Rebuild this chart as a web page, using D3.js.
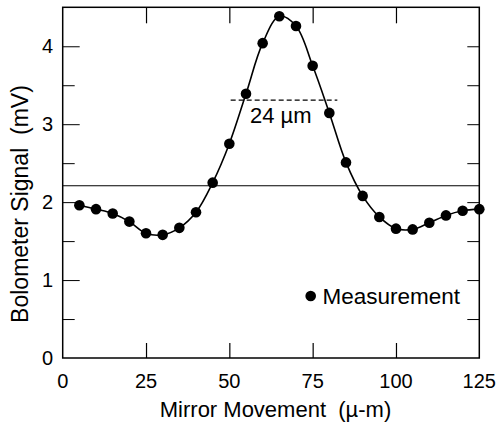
<!DOCTYPE html>
<html>
<head>
<meta charset="utf-8">
<script src="https://cdn.jsdelivr.net/npm/d3@7"></script>
<style>
  html, body { margin: 0; padding: 0; background: #fff; }
  svg text { font-family: "Liberation Sans", Arial, Helvetica, sans-serif; fill: #000; white-space: pre; }
</style>
</head>
<body>
<div id="chart"></div>
<script>
// ---- data ----
const mirrorPos = [5, 10, 15, 20, 25, 30, 35, 40, 45, 50, 55, 60, 65, 70, 75, 80, 85, 90, 95, 100, 105, 110, 115, 120, 125];
const signal = [1.96, 1.91, 1.855, 1.75, 1.60, 1.58, 1.67, 1.87, 2.25, 2.75, 3.39, 4.04, 4.385, 4.26, 3.75, 3.145, 2.51, 2.08, 1.81, 1.66, 1.65, 1.735, 1.83, 1.89, 1.91];
const xTickValues = [0, 25, 50, 75, 100, 125];
const yMajorTicks = [0, 1, 2, 3, 4];
const yMinorTicks = [0.5, 1.5, 2.5, 3.5];
const halfMaxLevel = 2.21;          // solid horizontal line
const fwhmLevel = 3.31;             // dashed width marker
const fwhmRange = [50.4, 82.4];
const fwhmLabel = "24 \u00b5m";
const legendLabel = "Measurement";
const xTitle = "Mirror Movement  (\u00b5-m)";
const yTitle = "Bolometer Signal  (mV)";

// ---- layout ----
const W = 499, H = 427;
const mg = { left: 62.7, right: W - 479.3, top: 7.3, bottom: H - 358 };

const svg = d3.select("#chart").append("svg").attr("width", W).attr("height", H);

const x = d3.scaleLinear().domain([0, 125]).range([mg.left, W - mg.right]);
const y = d3.scaleLinear().domain([0, 4.5]).range([H - mg.bottom, mg.top]);

const g = svg.append("g");

// frame
g.append("rect")
  .attr("x", x(0)).attr("y", y(4.5))
  .attr("width", x(125) - x(0)).attr("height", y(0) - y(4.5))
  .attr("fill", "none").attr("stroke", "#000").attr("stroke-width", 1.5);

// bottom axis (ticks inward)
const xInner = xTickValues.filter(d => d > 0 && d < 125);
const bottomAxis = g.append("g").attr("transform", `translate(0,${y(0)})`)
  .call(d3.axisBottom(x).tickValues(xInner).tickSize(-15).tickFormat(""));
bottomAxis.select(".domain").remove();
bottomAxis.selectAll("line").attr("stroke-width", 1.2);

// bottom tick labels
g.append("g").selectAll("text").data(xTickValues).join("text")
  .attr("x", d => x(d)).attr("y", 388)
  .attr("text-anchor", "middle").attr("font-size", 20)
  .text(d => d);

// top axis
const topAxis = g.append("g").attr("transform", `translate(0,${y(4.5)})`)
  .call(d3.axisTop(x).tickValues(xInner).tickSize(-16).tickFormat(""));
topAxis.select(".domain").remove();
topAxis.selectAll("line").attr("stroke-width", 1.2);

// left axis
const leftAxis = g.append("g").attr("transform", `translate(${x(0)},0)`)
  .call(d3.axisLeft(y).tickValues(yMajorTicks.filter(d => d > 0)).tickSize(-17).tickFormat(""));
leftAxis.select(".domain").remove();
leftAxis.selectAll("line").attr("stroke-width", 1);
const leftMinor = g.append("g").attr("transform", `translate(${x(0)},0)`)
  .call(d3.axisLeft(y).tickValues(yMinorTicks).tickSize(-12).tickFormat(""));
leftMinor.select(".domain").remove();
leftMinor.selectAll("line").attr("stroke-width", 1);

g.append("g").selectAll("text").data(yMajorTicks).join("text")
  .attr("x", 53).attr("y", d => y(d)).attr("dy", "0.36em")
  .attr("text-anchor", "end").attr("font-size", 20)
  .text(d => d);

// right axis
const rightAxis = g.append("g").attr("transform", `translate(${x(125)},0)`)
  .call(d3.axisRight(y).tickValues(yMajorTicks.concat(yMinorTicks).filter(d => d > 0)).tickSize(-12).tickFormat(""));
rightAxis.select(".domain").remove();
rightAxis.selectAll("line").attr("stroke-width", 1);

// horizontal solid line
g.append("line")
  .attr("x1", x(0)).attr("x2", x(125))
  .attr("y1", y(halfMaxLevel)).attr("y2", y(halfMaxLevel))
  .attr("stroke", "#000").attr("stroke-width", 1.2);

// dashed FWHM marker
g.append("line")
  .attr("x1", x(fwhmRange[0])).attr("x2", x(fwhmRange[1]))
  .attr("y1", y(fwhmLevel)).attr("y2", y(fwhmLevel))
  .attr("stroke", "#000").attr("stroke-width", 1.2).attr("stroke-dasharray", "5,3");

g.append("text")
  .attr("x", 250).attr("y", 123)
  .attr("font-size", 22)
  .text(fwhmLabel);

// curve
const pts = mirrorPos.map((d, i) => [d, signal[i]]);
g.append("path")
  .datum(pts)
  .attr("fill", "none").attr("stroke", "#000").attr("stroke-width", 1.6)
  .attr("d", d3.line().x(d => x(d[0])).y(d => y(d[1])).curve(d3.curveCatmullRom.alpha(0.5)));

// points
g.append("g").selectAll("circle").data(pts).join("circle")
  .attr("cx", d => x(d[0])).attr("cy", d => y(d[1])).attr("r", 5.3)
  .attr("fill", "#000");

// legend
g.append("circle").attr("cx", 310.7).attr("cy", 296).attr("r", 5.3).attr("fill", "#000");
g.append("text").attr("x", 322.5).attr("y", 304).attr("font-size", 22.5).text(legendLabel);

// axis titles
g.append("text")
  .attr("x", 275.5).attr("y", 417)
  .attr("text-anchor", "middle").attr("font-size", 22)
  .text(xTitle);

g.append("text")
  .attr("transform", `translate(28,204) rotate(-90)`)
  .attr("text-anchor", "middle").attr("font-size", 23)
  .text(yTitle);
</script>
</body>
</html>
